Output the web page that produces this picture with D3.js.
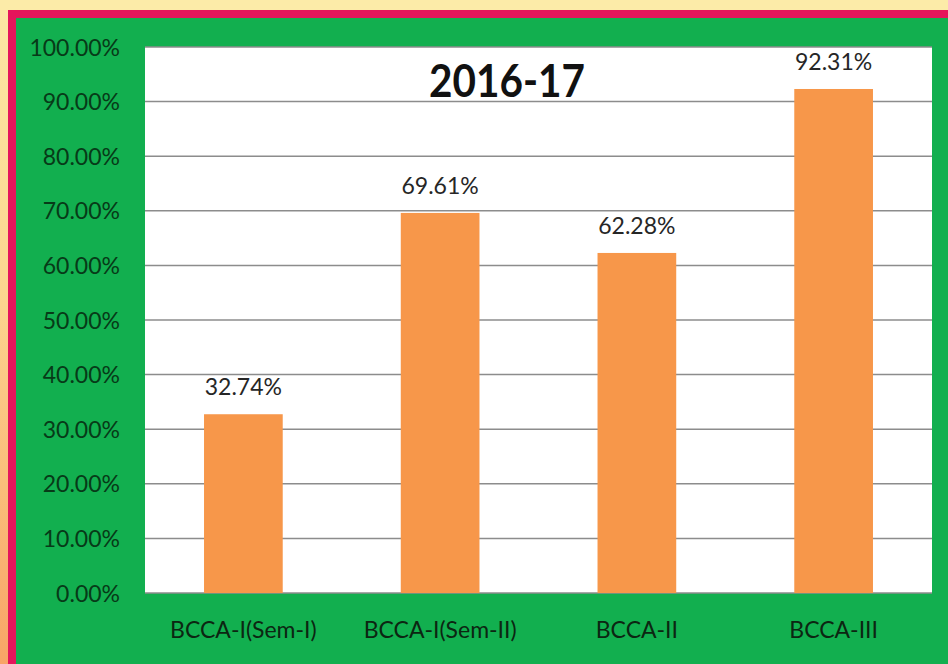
<!DOCTYPE html>
<html>
<head>
<meta charset="utf-8">
<script src="https://cdn.jsdelivr.net/npm/d3@7"></script>
<style>
  html, body { margin: 0; padding: 0; background: #FCEBA8; }
  svg { display: block; }
</style>
</head>
<body>
<svg id="chart" width="948" height="664"></svg>
<script>
const categories = ["BCCA-I(Sem-I)", "BCCA-I(Sem-II)", "BCCA-II", "BCCA-III"];
const values = [32.74, 69.61, 62.28, 92.31];
const yTicks = [0, 10, 20, 30, 40, 50, 60, 70, 80, 90, 100];
const title = "2016-17";

const W = 948, H = 664;
const svg = d3.select("#chart");

// frame
const defs = svg.append("defs");
const lg = defs.append("linearGradient").attr("id", "edge").attr("x1", 0).attr("y1", 0).attr("x2", 0).attr("y2", 1);
lg.append("stop").attr("offset", "0%").attr("stop-color", "#FCE7A4");
lg.append("stop").attr("offset", "45%").attr("stop-color", "#FCD58E");
lg.append("stop").attr("offset", "100%").attr("stop-color", "#F8A466");
svg.append("rect").attr("width", W).attr("height", H).attr("fill", "#FCEBA8");
svg.append("rect").attr("x", 0).attr("y", 10).attr("width", 8).attr("height", H - 10).attr("fill", "url(#edge)");
svg.append("rect").attr("x", 8).attr("y", 10).attr("width", W - 8).attr("height", H - 10).attr("fill", "#E5155B");
svg.append("rect").attr("x", 16).attr("y", 18).attr("width", W - 16).attr("height", H - 18).attr("fill", "#12AF4F");

const plot = { left: 145, top: 47, right: 932, bottom: 593 };

svg.append("rect")
  .attr("x", plot.left).attr("y", plot.top)
  .attr("width", plot.right - plot.left).attr("height", plot.bottom - plot.top)
  .attr("fill", "#ffffff");

const x = d3.scaleBand().domain(categories).range([plot.left, plot.right]).paddingInner(0.6).paddingOuter(0.3);
const y = d3.scaleLinear().domain([0, 100]).range([plot.bottom, plot.top]);

// gridlines
svg.append("g").selectAll("line").data(yTicks).join("line")
  .attr("x1", plot.left).attr("x2", plot.right)
  .attr("y1", d => y(d)).attr("y2", d => y(d))
  .attr("stroke", "#8c8c8c").attr("stroke-width", 1.5);

// y axis labels
const yAxis = d3.axisLeft(y).tickValues(yTicks).tickSize(0).tickPadding(0)
  .tickFormat(d => d.toFixed(2) + "%");
const gy = svg.append("g").attr("transform", `translate(120,0)`).call(yAxis);
gy.select(".domain").remove();
gy.selectAll("text")
  .attr("font-family", "Lato, 'Open Sans', sans-serif")
  .attr("font-size", 23)
  .attr("fill", "#073A18")
  .attr("dy", "0.35em");

// bars
svg.append("g").selectAll("rect").data(values).join("rect")
  .attr("x", (d, i) => x(categories[i]))
  .attr("width", x.bandwidth())
  .attr("y", d => y(d))
  .attr("height", d => y(0) - y(d))
  .attr("fill", "#F7974A");

// value labels
svg.append("g").selectAll("text").data(values).join("text")
  .attr("x", (d, i) => x(categories[i]) + x.bandwidth() / 2)
  .attr("y", d => y(d) - 19)
  .attr("text-anchor", "middle")
  .attr("font-family", "Lato, 'Open Sans', sans-serif")
  .attr("font-size", 23)
  .attr("fill", "#262626")
  .text(d => d.toFixed(2) + "%");

// x axis labels
const xAxis = d3.axisBottom(x).tickSize(0).tickPadding(0);
const gx = svg.append("g").attr("transform", `translate(0,${plot.bottom})`).call(xAxis);
gx.select(".domain").remove();
gx.selectAll("text")
  .attr("font-family", "Lato, 'Open Sans', sans-serif")
  .attr("font-size", 23)
  .attr("fill", "#0C2612")
  .attr("dy", 0)
  .attr("y", 45);

// title
svg.append("text")
  .attr("x", 507).attr("y", 97)
  .attr("text-anchor", "middle")
  .attr("font-family", "Lato, 'Open Sans', sans-serif")
  .attr("font-weight", "bold")
  .attr("font-size", 46)
  .attr("textLength", 156)
  .attr("lengthAdjust", "spacingAndGlyphs")
  .attr("fill", "#111111")
  .text(title);
</script>
</body>
</html>
